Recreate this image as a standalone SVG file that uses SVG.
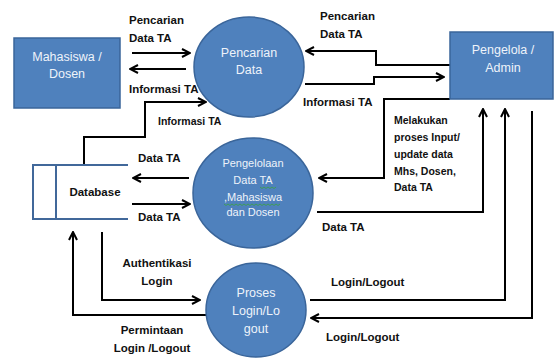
<svg xmlns="http://www.w3.org/2000/svg" width="554" height="358" viewBox="0 0 554 358">
<style>
.node{fill:#4F81BD;stroke:#3A659A;stroke-width:1.5}
.nt{font-family:"Liberation Sans",Arial,sans-serif;font-size:12.5px;fill:#EEF3FA;text-anchor:middle}
.nts{font-family:"Liberation Sans",Arial,sans-serif;font-size:11px;fill:#EEF3FA;text-anchor:middle}
.lbl{font-family:"Liberation Sans",Arial,sans-serif;font-size:11.5px;font-weight:bold;fill:#111}
.lbls{font-family:"Liberation Sans",Arial,sans-serif;font-size:10.5px;font-weight:bold;fill:#111}
.mid{text-anchor:middle}
.con{fill:none;stroke:#000;stroke-width:2}
.db{fill:none;stroke:#41689A;stroke-width:2}
.wave{fill:none;stroke:#3BA33B;stroke-width:0.8}
</style>
<defs>
<marker id="arr" viewBox="0 0 10 10" refX="9" refY="5" markerWidth="10" markerHeight="10" markerUnits="userSpaceOnUse" orient="auto">
<path d="M1,1 L9,5 L1,9" fill="none" stroke="#000" stroke-width="2"/>
</marker>
</defs>
<g id="connectors">
<path class="con" d="M132,53 H190" marker-end="url(#arr)"/>
<path class="con" d="M186,69 H130" marker-end="url(#arr)"/>
<path class="con" d="M84,165 V137 H145 V102 H206" marker-end="url(#arr)"/>
<path class="con" d="M450,65 H376 V51 H306" marker-end="url(#arr)"/>
<path class="con" d="M305,84 H374 V77 H444" marker-end="url(#arr)"/>
<path class="con" d="M450,99 H384 V178 H319" marker-end="url(#arr)"/>
<path class="con" d="M317,212 H483 V109" marker-end="url(#arr)"/>
<path class="con" d="M310,300 H505 V109" marker-end="url(#arr)"/>
<path class="con" d="M532,111 V318 H311" marker-end="url(#arr)"/>
<path class="con" d="M189,178 H133" marker-end="url(#arr)"/>
<path class="con" d="M132,204 H190" marker-end="url(#arr)"/>
<path class="con" d="M102,232 V300 H200" marker-end="url(#arr)"/>
<path class="con" d="M207,315 H73 V232" marker-end="url(#arr)"/>
</g>
<g id="labels">
<text class="lbl" x="129" y="24">Pencarian</text>
<text class="lbl" x="129" y="42">Data TA</text>
<text class="lbl" x="129" y="93">Informasi TA</text>
<text class="lbls" x="158" y="125">Informasi TA</text>
<text class="lbl" x="320" y="20">Pencarian</text>
<text class="lbl" x="320" y="38">Data TA</text>
<text class="lbl" x="303" y="106">Informasi TA</text>
<text class="lbls" x="394" y="124">Melakukan</text>
<text class="lbls" x="394" y="141">proses Input/</text>
<text class="lbls" x="394" y="158">update data</text>
<text class="lbls" x="394" y="175">Mhs, Dosen,</text>
<text class="lbls" x="394" y="191">Data TA</text>
<text class="lbl" x="138" y="162">Data TA</text>
<text class="lbl" x="138" y="221">Data TA</text>
<text class="lbl" x="322" y="231">Data TA</text>
<text class="lbl" x="331" y="286">Login/Logout</text>
<text class="lbl" x="326" y="341">Login/Logout</text>
<text class="lbl mid" x="157" y="267">Authentikasi</text>
<text class="lbl mid" x="157" y="285">Login</text>
<text class="lbl mid" x="152" y="334">Permintaan</text>
<text class="lbl mid" x="152" y="352">Login /Logout</text>
</g>
<g id="mahasiswa">
<rect class="node" x="14" y="38" width="106" height="70"/>
<text class="nt" x="67" y="61">Mahasiswa /</text>
<text class="nt" x="67" y="78">Dosen</text>
</g>
<g id="pencarian">
<ellipse class="node" cx="249" cy="67" rx="55" ry="50"/>
<text class="nt" x="249" y="57">Pencarian</text>
<text class="nt" x="249" y="74">Data</text>
</g>
<g id="pengelola">
<rect class="node" x="450" y="32" width="103" height="67"/>
<text class="nt" x="503" y="54">Pengelola /</text>
<text class="nt" x="503" y="72">Admin</text>
</g>
<g id="pengelolaan">
<ellipse class="node" cx="253" cy="193" rx="60" ry="55"/>
<text class="nts" x="253" y="167">Pengelolaan</text>
<text class="nts" x="253" y="184">Data TA</text>
<text class="nts" x="253" y="201">,Mahasiswa</text>
<text class="nts" x="253" y="216">dan Dosen</text>
<path class="wave" d="M260,187 l2,1.5 l2,-1.5 l2,1.5 l2,-1.5 l2,1.5 l2,-1.5 l2,1.5 l2,-1.5"/>
<path class="wave" d="M224,204 l2,1.5 l2,-1.5 l2,1.5 l2,-1.5 l2,1.5 l2,-1.5 l2,1.5 l2,-1.5 l2,1.5 l2,-1.5 l2,1.5 l2,-1.5 l2,1.5 l2,-1.5 l2,1.5 l2,-1.5 l2,1.5 l2,-1.5 l2,1.5 l2,-1.5 l2,1.5 l2,-1.5 l2,1.5 l2,-1.5 l2,1.5 l2,-1.5 l2,1.5 l2,-1.5"/>
</g>
<g id="proses">
<ellipse class="node" cx="256" cy="310" rx="50" ry="47"/>
<text class="nt" x="256" y="297">Proses</text>
<text class="nt" x="256" y="315">Login/Lo</text>
<text class="nt" x="256" y="333">gout</text>
</g>
<g id="database">
<path class="db" d="M128,165 H33 V219 H128 M56,165 V219"/>
<text class="lbl mid" x="95" y="196">Database</text>
</g>
</svg>
